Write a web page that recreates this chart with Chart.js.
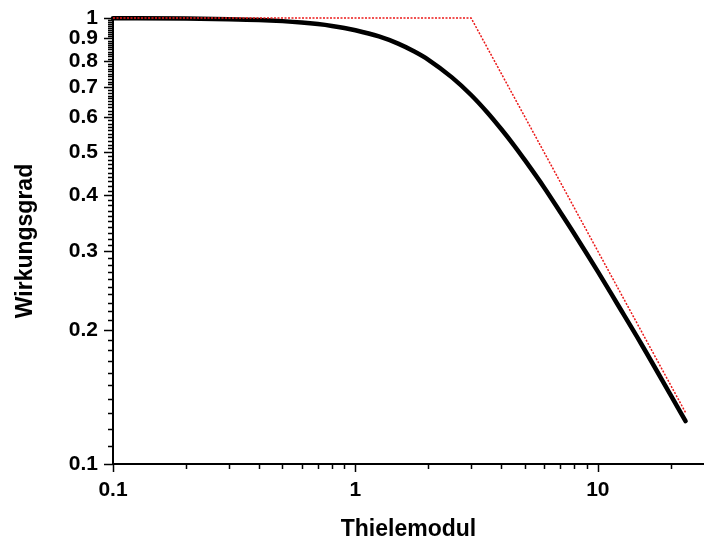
<!DOCTYPE html>
<html>
<head>
<meta charset="utf-8">
<script src="https://cdn.jsdelivr.net/npm/chart.js@4.4.1/dist/chart.umd.min.js"></script>
<style>
  html, body { margin: 0; padding: 0; background: #fff; }
  #wrap { width: 704px; height: 544px; }
</style>
</head>
<body>
<div id="wrap"><canvas id="thieleChart"></canvas></div>
<script>
// Thiele modulus vs. effectiveness
const thieleModul = [0.1, 0.2, 0.3, 0.4, 0.5, 0.6, 0.7, 0.8, 0.9, 1, 1.25, 1.5, 1.75, 2, 2.5, 3, 3.5, 4, 4.5, 5, 6, 7, 8, 10, 12, 15, 20, 23];
const wirkungsgrad = [0.999, 0.997, 0.994, 0.990, 0.984, 0.977, 0.969, 0.960, 0.950, 0.939, 0.909, 0.876, 0.841, 0.806, 0.736, 0.672, 0.614, 0.563, 0.519, 0.480, 0.417, 0.367, 0.328, 0.270, 0.229, 0.187, 0.1425, 0.1248];

// asymptotes (red dotted)
const asymX = [0.1, 3, 23];
const asymY = [1, 1, 0.1304];

// labelled ticks
const xTickLabels = [0.1, 1, 10];
const yTickLabels = [0.1, 0.2, 0.3, 0.4, 0.5, 0.6, 0.7, 0.8, 0.9, 1];

const tickFont = { family: 'Liberation Sans', size: 21, weight: 'bold' };
const titleFont = { family: 'Liberation Sans', size: 23, weight: 'bold' };

function isLabelled(list, v) {
    return list.some(t => Math.abs(t - v) < 1e-9);
}

// draws the small tick marks (major longer than minor)
const tickMarks = {
    id: 'tickMarks',
    afterDraw(chart) {
        const ctx = chart.ctx;
        const xs = chart.scales.x, ys = chart.scales.y;
        ctx.save();
        ctx.strokeStyle = '#000';
        ctx.lineWidth = 1.5;
        ctx.beginPath();
        xs.ticks.forEach(t => {
            const px = Math.round(xs.getPixelForValue(t.value)) + 0.5;
            const len = isLabelled(xTickLabels, t.value) ? 8 : 5;
            ctx.moveTo(px, xs.top);
            ctx.lineTo(px, xs.top + len);
        });
        ys.ticks.forEach(t => {
            const py = Math.round(ys.getPixelForValue(t.value)) + 0.5;
            const len = isLabelled(yTickLabels, t.value) ? 9 : 5;
            ctx.moveTo(ys.right, py);
            ctx.lineTo(ys.right - len, py);
        });
        ctx.stroke();
        ctx.restore();
    }
};

const ctx = document.getElementById('thieleChart').getContext('2d');
new Chart(ctx, {
    type: 'line',
    data: {
        datasets: [
            {
                label: 'Asymptoten',
                data: asymX.map((x, i) => ({ x: x, y: asymY[i] })),
                borderColor: 'rgb(235, 25, 25)',
                borderWidth: 1.5,
                borderDash: [2, 1.5],
                pointRadius: 0,
                tension: 0,
                clip: false
            },
            {
                label: 'Wirkungsgrad',
                data: thieleModul.map((x, i) => ({ x: x, y: wirkungsgrad[i] })),
                borderColor: '#000',
                borderWidth: 4.5,
                borderCapStyle: 'round',
                pointRadius: 0,
                cubicInterpolationMode: 'monotone',
                clip: false
            }
        ]
    },
    options: {
        responsive: true,
        maintainAspectRatio: false,
        animation: false,
        devicePixelRatio: 1,
        layout: { padding: { top: 18, right: 0, left: 0, bottom: 0 } },
        plugins: {
            legend: { display: false },
            tooltip: { enabled: false }
        },
        scales: {
            x: {
                type: 'logarithmic',
                min: 0.1,
                max: 27.4,
                border: { display: true, color: '#000', width: 2 },
                grid: { display: false, drawTicks: false },
                afterBuildTicks: scale => {
                    const ticks = [];
                    [0.1, 1, 10].forEach(d => {
                        for (let m = 1; m <= 9; m++) {
                            const v = Math.round(d * m * 1000) / 1000;
                            if (v <= scale.max) ticks.push({ value: v });
                        }
                    });
                    scale.ticks = ticks;
                },
                afterFit: scale => {
                    scale.height = 80;
                    scale.paddingLeft = 0;
                    scale.paddingRight = 0;
                },
                ticks: {
                    autoSkip: false,
                    maxRotation: 0,
                    padding: 14,
                    color: '#000',
                    font: tickFont,
                    callback: v => isLabelled(xTickLabels, v) ? String(v) : ''
                },
                title: {
                    display: true,
                    text: 'Thielemodul',
                    color: '#000',
                    font: titleFont,
                    padding: { top: 0, bottom: 1 }
                }
            },
            y: {
                type: 'logarithmic',
                min: 0.1,
                max: 1,
                border: { display: true, color: '#000', width: 2 },
                grid: { display: false, drawTicks: false },
                afterBuildTicks: scale => {
                    const ticks = [];
                    for (let k = 10; k <= 100; k++) ticks.push({ value: k / 100 });
                    scale.ticks = ticks;
                },
                afterFit: scale => {
                    scale.width = 113;
                    scale.paddingTop = 0;
                    scale.paddingBottom = 0;
                },
                ticks: {
                    autoSkip: false,
                    padding: 15,
                    color: '#000',
                    font: tickFont,
                    callback: v => isLabelled(yTickLabels, v) ? String(v) : ''
                },
                title: {
                    display: true,
                    text: 'Wirkungsgrad',
                    color: '#000',
                    font: titleFont,
                    padding: { top: 12, bottom: 0 }
                }
            }
        }
    },
    plugins: [tickMarks]
});
</script>
</body>
</html>
